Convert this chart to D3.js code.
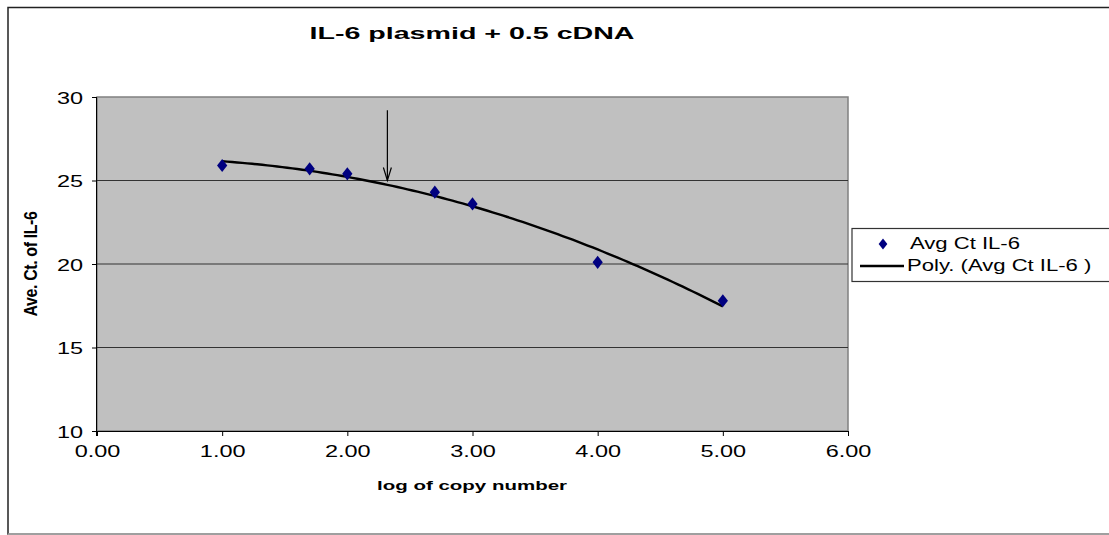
<!DOCTYPE html>
<html>
<head>
<meta charset="utf-8">
<script src="https://cdn.jsdelivr.net/npm/d3@7"></script>
<style>
  html, body { margin: 0; padding: 0; background: #fff; }
  svg { display: block; font-family: "Liberation Sans", Arial, sans-serif; }
</style>
</head>
<body>
<svg id="chart" width="1109" height="535"></svg>
<script>
// ---- data ----
const logCopy = [1.00, 1.699, 2.00, 2.699, 3.00, 4.00, 5.00];
const avgCt   = [25.9, 25.7, 25.4, 24.3, 23.6, 20.1, 17.8];
const xTicks = [0, 1, 2, 3, 4, 5, 6];
const yTicks = [10, 15, 20, 25, 30];
const arrowX = 2.32, arrowFrom = 29.2, arrowTo = 25.0;
const titleText = "IL-6 plasmid + 0.5 cDNA";
const xTitle = "log of copy number";
const yTitle = "Ave. Ct. of IL-6";
const legendLabels = ["Avg Ct IL-6", "Poly. (Avg Ct IL-6 )"];

// ---- quadratic least-squares trendline (as Excel "Poly." order 2) ----
function polyFit2(xs, ys) {
  let S = [0,0,0,0,0], T = [0,0,0];
  xs.forEach((x, i) => {
    for (let k = 0; k < 5; k++) S[k] += Math.pow(x, k);
    for (let k = 0; k < 3; k++) T[k] += ys[i] * Math.pow(x, k);
  });
  const A = [[S[0],S[1],S[2],T[0]],[S[1],S[2],S[3],T[1]],[S[2],S[3],S[4],T[2]]];
  for (let i = 0; i < 3; i++) {
    let p = i; for (let r = i+1; r < 3; r++) if (Math.abs(A[r][i]) > Math.abs(A[p][i])) p = r;
    [A[i], A[p]] = [A[p], A[i]];
    for (let r = 0; r < 3; r++) if (r !== i) {
      const f = A[r][i] / A[i][i];
      for (let c = i; c < 4; c++) A[r][c] -= f * A[i][c];
    }
  }
  return [A[0][3]/A[0][0], A[1][3]/A[1][1], A[2][3]/A[2][2]];
}
const coef = polyFit2(logCopy, avgCt);
const xMin = d3.min(logCopy), xMax = d3.max(logCopy);
const trend = d3.range(0, 101).map(i => {
  const x = xMin + (xMax - xMin) * i / 100;
  return [x, coef[0] + coef[1]*x + coef[2]*x*x];
});

// ---- layout ----
const svg = d3.select("#chart");
const plot = { left: 97, right: 848, top: 97, bottom: 431 };
const x = d3.scaleLinear().domain([0, 6]).range([plot.left, plot.right]);
const y = d3.scaleLinear().domain([10, 30]).range([plot.bottom, plot.top]);
const SX = 1.38; // horizontal stretch of the text as in the reference

// outer chart border
svg.append("rect").attr("x", 8).attr("y", 7.5).attr("width", 1200).attr("height", 526.5)
  .attr("fill", "#fff").attr("stroke", "#222").attr("stroke-width", 1.5);
svg.append("line").attr("x1", 8).attr("x2", 1109).attr("y1", 534).attr("y2", 534)
  .attr("stroke", "#e6e6e6").attr("stroke-width", 1);

// plot area
svg.append("rect").attr("x", plot.left).attr("y", plot.top)
  .attr("width", plot.right - plot.left).attr("height", plot.bottom - plot.top)
  .attr("fill", "#c0c0c0").attr("stroke", "#808080").attr("stroke-width", 1.5);

// gridlines
svg.append("g").selectAll("line").data(yTicks.filter(t => t > 10 && t < 30)).join("line")
  .attr("x1", plot.left).attr("x2", plot.right)
  .attr("y1", d => y(d)).attr("y2", d => y(d))
  .attr("stroke", "#333").attr("stroke-width", 1);

// axes
const yAxis = d3.axisLeft(y).tickValues(yTicks).tickSize(5).tickFormat(d3.format("d"));
const gy = svg.append("g").attr("transform", `translate(${plot.left},0)`).call(yAxis);
const xAxis = d3.axisBottom(x).tickValues(xTicks).tickSize(5).tickFormat(d3.format(".2f"));
const gx = svg.append("g").attr("transform", `translate(0,${plot.bottom})`).call(xAxis);
[gx, gy].forEach(g => {
  g.select(".domain").attr("stroke", "#000").attr("stroke-width", 1);
  g.selectAll(".tick line").attr("stroke", "#000");
  g.selectAll(".tick text").attr("fill", "#000").style("font-size", "17px")
    .style("font-family", "'Liberation Sans', Arial, sans-serif");
});
gx.selectAll(".tick text").attr("y", 14).attr("dy", "0.71em").attr("transform", `scale(${SX},1)`);
gy.selectAll(".tick text").attr("x", -14 / SX).attr("dy", "0.36em").attr("transform", `scale(${SX},1)`);
gx.select(".domain").attr("d", `M${plot.left - 5},0.5H${plot.right}`);
gy.select(".domain").attr("d", `M-0.5,${plot.bottom + 5}V${plot.top}`);

// trendline
svg.append("path").datum(trend)
  .attr("d", d3.line().x(d => x(d[0])).y(d => y(d[1])))
  .attr("fill", "none").attr("stroke", "#000").attr("stroke-width", 2.4);

// markers
const diamond = d3.symbol().type(d3.symbolDiamond).size(50);
svg.append("g").selectAll("path").data(logCopy.map((v, i) => [v, avgCt[i]])).join("path")
  .attr("d", diamond)
  .attr("transform", d => `translate(${x(d[0])},${y(d[1])}) scale(1.35,1)`)
  .attr("fill", "#000080");

// arrow annotation
const ax = x(arrowX), ay1 = y(arrowFrom), ay2 = y(arrowTo);
svg.append("line").attr("x1", ax).attr("x2", ax).attr("y1", ay1).attr("y2", ay2)
  .attr("stroke", "#000").attr("stroke-width", 1.2);
svg.append("path").attr("d", `M${ax - 4},${ay2 - 13}L${ax},${ay2}L${ax + 4},${ay2 - 13}`)
  .attr("fill", "none").attr("stroke", "#000").attr("stroke-width", 1.2);

// titles
svg.append("text").attr("transform", `translate(472,39) scale(${SX * 1.22},1)`)
  .attr("text-anchor", "middle").style("font-size", "17px").style("font-weight", "bold")
  .text(titleText);
svg.append("text").attr("transform", `translate(472,490) scale(${SX * 1.1},1)`)
  .attr("text-anchor", "middle").style("font-size", "13.5px").style("font-weight", "bold")
  .text(xTitle);
svg.append("text").attr("transform", `translate(37,${(plot.top + plot.bottom) / 2}) rotate(-90) scale(1,1.15)`)
  .attr("text-anchor", "middle").style("font-size", "16px").style("font-weight", "bold")
  .style("letter-spacing", "-0.4px").text(yTitle);

// legend
const lg = svg.append("g");
lg.append("rect").attr("x", 852).attr("y", 228.5).attr("width", 300).attr("height", 53)
  .attr("fill", "#fff").attr("stroke", "#333").attr("stroke-width", 1.2);
lg.append("path").attr("d", d3.symbol().type(d3.symbolDiamond).size(36))
  .attr("transform", "translate(883,244) scale(1.35,1)").attr("fill", "#000080");
lg.append("text").attr("transform", `translate(910,249) scale(${SX},1)`)
  .style("font-size", "16px").text(legendLabels[0]);
lg.append("line").attr("x1", 860).attr("x2", 904).attr("y1", 266).attr("y2", 266)
  .attr("stroke", "#000").attr("stroke-width", 2.4);
lg.append("text").attr("transform", `translate(907,271) scale(${SX},1)`)
  .style("font-size", "16px").text(legendLabels[1]);
</script>
</body>
</html>
